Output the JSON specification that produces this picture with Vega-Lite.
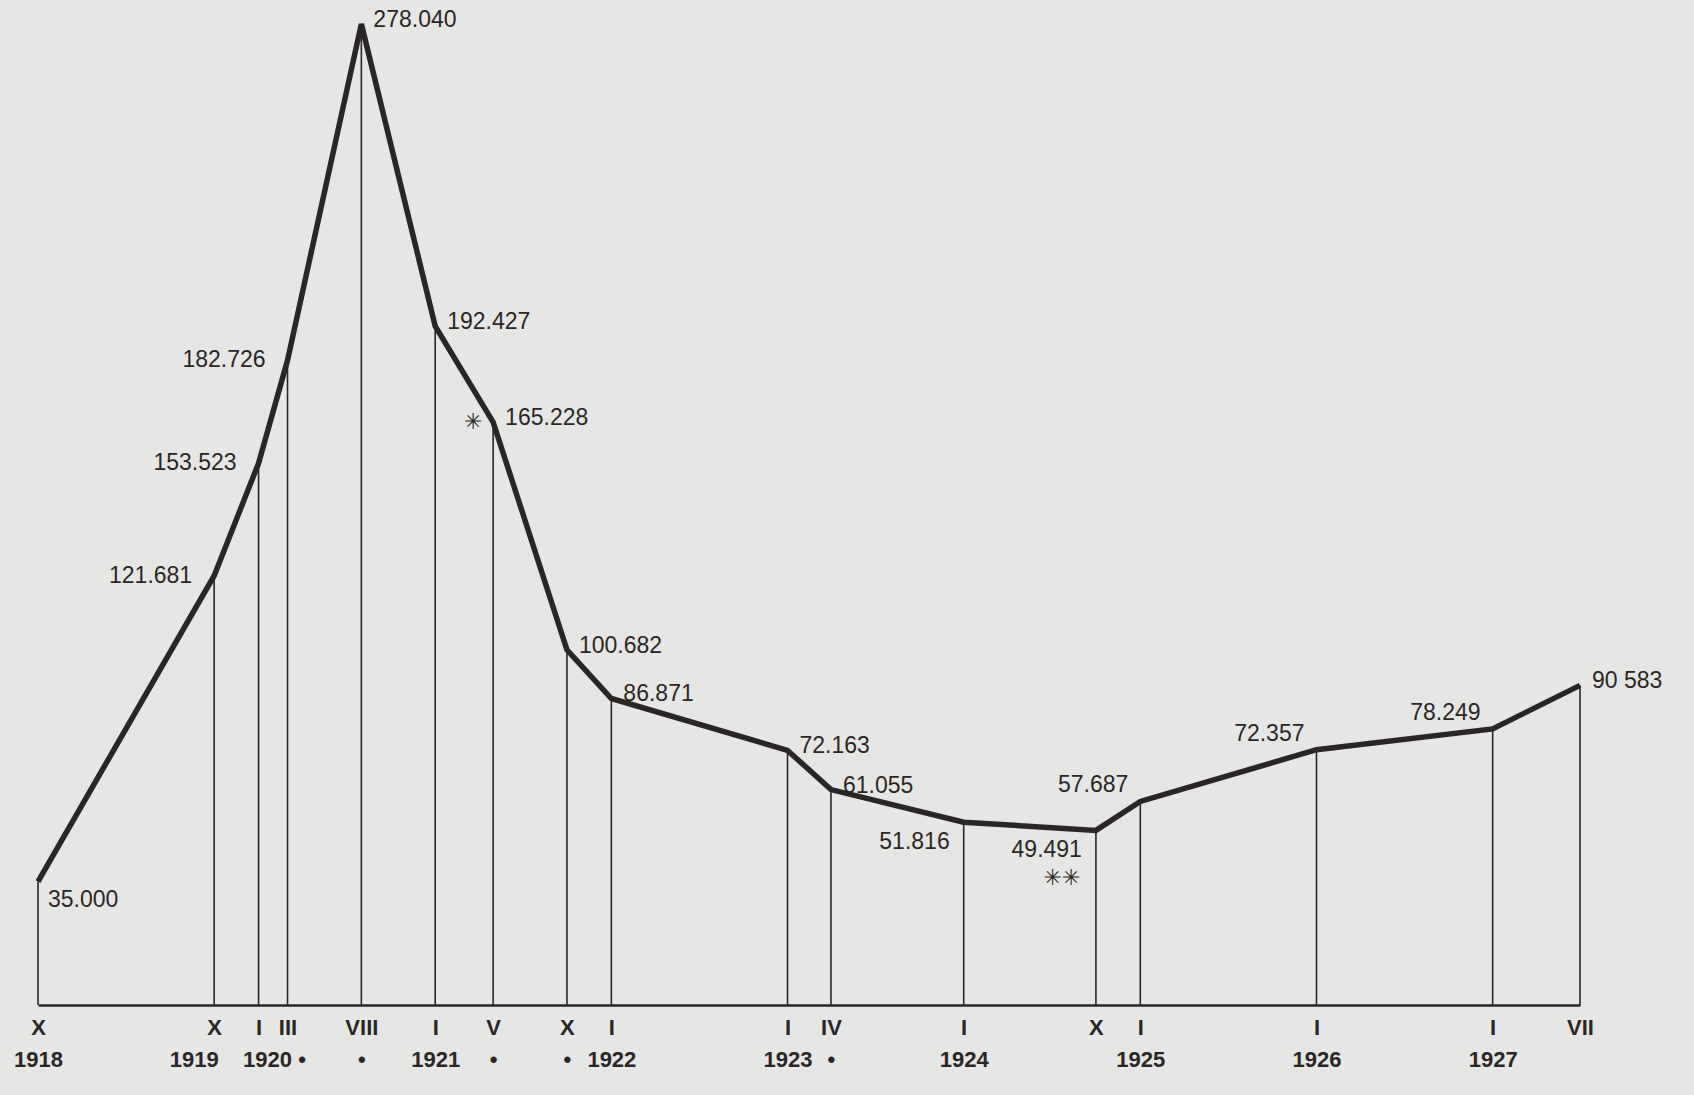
{
  "$schema": "https://vega.github.io/schema/vega-lite/v6.json",
  "autosize": {"type": "none"},
  "width": 1542,
  "height": 981,
  "padding": {"left": 38, "top": 24, "right": 114, "bottom": 90},
  "background": "#e6e7e4",
  "config": {"view": {"stroke": null}, "text": {"font": "Liberation Sans", "fontSize": 23, "fill": "#2b2626"}},
  "data": {"values": [
    {"date": "1918-10-01", "value": 35.0, "label": "35.000", "note": ""},
    {"date": "1919-10-01", "value": 121.681, "label": "121.681", "note": ""},
    {"date": "1920-01-01", "value": 153.523, "label": "153.523", "note": ""},
    {"date": "1920-03-01", "value": 182.726, "label": "182.726", "note": ""},
    {"date": "1920-08-01", "value": 278.04, "label": "278.040", "note": ""},
    {"date": "1921-01-01", "value": 192.427, "label": "192.427", "note": ""},
    {"date": "1921-05-01", "value": 165.228, "label": "165.228", "note": "✳"},
    {"date": "1921-10-01", "value": 100.682, "label": "100.682", "note": ""},
    {"date": "1922-01-01", "value": 86.871, "label": "86.871", "note": ""},
    {"date": "1923-01-01", "value": 72.163, "label": "72.163", "note": ""},
    {"date": "1923-04-01", "value": 61.055, "label": "61.055", "note": ""},
    {"date": "1924-01-01", "value": 51.816, "label": "51.816", "note": ""},
    {"date": "1924-10-01", "value": 49.491, "label": "49.491", "note": "✳✳"},
    {"date": "1925-01-01", "value": 57.687, "label": "57.687", "note": ""},
    {"date": "1926-01-01", "value": 72.357, "label": "72.357", "note": ""},
    {"date": "1927-01-01", "value": 78.249, "label": "78.249", "note": ""},
    {"date": "1927-07-01", "value": 90.583, "label": "90 583", "note": ""}
  ]},
  "encoding": {
    "x": {
      "field": "date", "type": "temporal",
      "scale": {"type": "utc", "nice": false, "padding": 0,
        "domain": [{"year": 1918, "month": "oct", "date": 1, "utc": true}, {"year": 1927, "month": "jul", "date": 1, "utc": true}]},
      "axis": null
    },
    "y": {"field": "value", "type": "quantitative", "scale": {"domain": [0, 278.04], "nice": false}, "axis": null}
  },
  "resolve": {"axis": {"x": "independent"}},
  "layer": [
    {"mark": {"type": "rule", "stroke": "#2b2626", "strokeWidth": 1.6},
     "encoding": {
       "x": {
         "field": "date", "type": "temporal",
         "scale": {"type": "utc", "nice": false, "padding": 0,
           "domain": [{"year": 1918, "month": "oct", "date": 1, "utc": true}, {"year": 1927, "month": "jul", "date": 1, "utc": true}]},
         "axis": {
           "orient": "bottom",
           "title": null, "grid": false, "ticks": false,
           "domain": true, "domainColor": "#2b2626", "domainWidth": 2.5,
           "values": [
             {"year": 1918, "month": "oct", "date": 1, "utc": true},
             {"year": 1919, "month": "oct", "date": 1, "utc": true},
             {"year": 1920, "month": "jan", "date": 1, "utc": true},
             {"year": 1920, "month": "mar", "date": 1, "utc": true},
             {"year": 1920, "month": "aug", "date": 1, "utc": true},
             {"year": 1921, "month": "jan", "date": 1, "utc": true},
             {"year": 1921, "month": "may", "date": 1, "utc": true},
             {"year": 1921, "month": "oct", "date": 1, "utc": true},
             {"year": 1922, "month": "jan", "date": 1, "utc": true},
             {"year": 1923, "month": "jan", "date": 1, "utc": true},
             {"year": 1923, "month": "apr", "date": 1, "utc": true},
             {"year": 1924, "month": "jan", "date": 1, "utc": true},
             {"year": 1924, "month": "oct", "date": 1, "utc": true},
             {"year": 1925, "month": "jan", "date": 1, "utc": true},
             {"year": 1926, "month": "jan", "date": 1, "utc": true},
             {"year": 1927, "month": "jan", "date": 1, "utc": true},
             {"year": 1927, "month": "jul", "date": 1, "utc": true}
           ],
           "labelExpr": "['I','II','III','IV','V','VI','VII','VIII','IX','X','XI','XII'][utcmonth(datum.value)]",
           "labelFont": "Liberation Sans", "labelFontSize": 22, "labelFontWeight": "bold", "labelColor": "#2b2626",
           "labelPadding": 12, "labelOverlap": false, "labelFlush": false, "labelBound": false
         }
       },
       "y2": {"datum": 0}
     }},
    {"mark": {"type": "line", "stroke": "#2b2626", "strokeWidth": 5.5, "strokeJoin": "miter"},
     "encoding": {
       "x": {
         "field": "date", "type": "temporal",
         "scale": {"type": "utc", "nice": false, "padding": 0,
           "domain": [{"year": 1918, "month": "oct", "date": 1, "utc": true}, {"year": 1927, "month": "jul", "date": 1, "utc": true}]},
         "axis": {
           "orient": "bottom", "offset": 40,
           "title": null, "grid": false, "ticks": false, "domain": false,
           "values": [
             {"year": 1918, "month": "oct", "date": 1, "utc": true},
             {"year": 1919, "month": "oct", "date": 1, "utc": true},
             {"year": 1920, "month": "jan", "date": 1, "utc": true},
             {"year": 1920, "month": "mar", "date": 1, "utc": true},
             {"year": 1920, "month": "aug", "date": 1, "utc": true},
             {"year": 1921, "month": "jan", "date": 1, "utc": true},
             {"year": 1921, "month": "may", "date": 1, "utc": true},
             {"year": 1921, "month": "oct", "date": 1, "utc": true},
             {"year": 1922, "month": "jan", "date": 1, "utc": true},
             {"year": 1923, "month": "jan", "date": 1, "utc": true},
             {"year": 1923, "month": "apr", "date": 1, "utc": true},
             {"year": 1924, "month": "jan", "date": 1, "utc": true},
             {"year": 1925, "month": "jan", "date": 1, "utc": true},
             {"year": 1926, "month": "jan", "date": 1, "utc": true},
             {"year": 1927, "month": "jan", "date": 1, "utc": true}
           ],
           "labelExpr": "(utcmonth(datum.value) == 0 || utcyear(datum.value) < 1920) ? ('' + utcyear(datum.value)) : '•'",
           "labelFont": "Liberation Sans", "labelFontSize": 22, "labelFontWeight": "bold", "labelColor": "#2b2626",
           "labelPadding": 4,
           "labelAlign": {"condition": [
             {"test": "utcyear(datum.value) == 1919", "value": "right"},
             {"test": "utcyear(datum.value) == 1920 && utcmonth(datum.value) == 0", "value": "left"}
           ], "value": "center"},
           "labelOffset": {"condition": [
             {"test": "utcyear(datum.value) == 1919", "value": 4},
             {"test": "utcyear(datum.value) == 1920 && utcmonth(datum.value) == 0", "value": -16},
             {"test": "utcyear(datum.value) == 1920 && utcmonth(datum.value) == 2", "value": 14}
           ], "value": 0},
           "labelOverlap": false, "labelFlush": false, "labelBound": false
         }
       }
     }},
    {"transform": [{"filter": {"field": "label", "oneOf": ["278.040", "192.427", "165.228", "100.682", "86.871", "72.163", "61.055", "90 583"]}}],
     "mark": {"type": "text", "align": "left", "baseline": "middle", "dx": 12, "dy": -4}, "encoding": {"text": {"field": "label"}}},
    {"transform": [{"filter": {"field": "label", "oneOf": ["121.681", "153.523", "182.726"]}}],
     "mark": {"type": "text", "align": "right", "baseline": "middle", "dx": -22, "dy": 0}, "encoding": {"text": {"field": "label"}}},
    {"transform": [{"filter": {"field": "label", "oneOf": ["51.816", "49.491"]}}],
     "mark": {"type": "text", "align": "right", "baseline": "middle", "dx": -14, "dy": 20}, "encoding": {"text": {"field": "label"}}},
    {"transform": [{"filter": {"field": "label", "oneOf": ["57.687", "72.357", "78.249"]}}],
     "mark": {"type": "text", "align": "right", "baseline": "middle", "dx": -12, "dy": -16}, "encoding": {"text": {"field": "label"}}},
    {"transform": [{"filter": {"field": "label", "equal": "35.000"}}],
     "mark": {"type": "text", "align": "left", "baseline": "middle", "dx": 10, "dy": 18}, "encoding": {"text": {"field": "label"}}},
    {"transform": [{"filter": {"field": "note", "equal": "✳"}}],
     "mark": {"type": "text", "align": "center", "baseline": "middle", "dx": -20, "dy": 0, "font": "DejaVu Sans", "fontSize": 22}, "encoding": {"text": {"field": "note"}}},
    {"transform": [{"filter": {"field": "note", "equal": "✳✳"}}],
     "mark": {"type": "text", "align": "center", "baseline": "middle", "dx": -34, "dy": 48, "font": "DejaVu Sans", "fontSize": 22}, "encoding": {"text": {"field": "note"}}}
  ]
}
